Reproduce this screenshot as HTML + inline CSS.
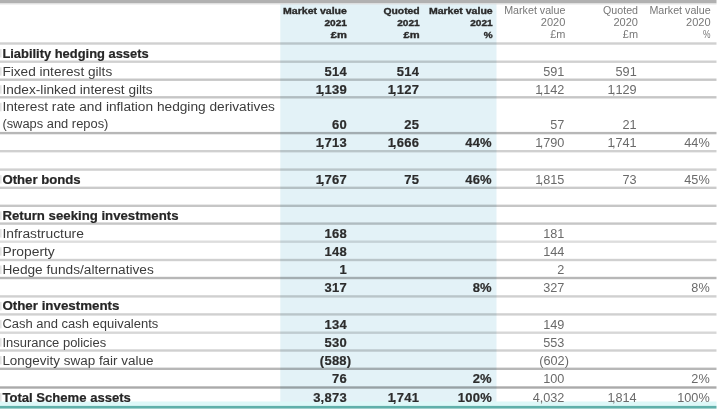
<!DOCTYPE html>
<html><head><meta charset="utf-8"><style>
html,body{margin:0;padding:0;background:#fff;width:720px;height:412px;overflow:hidden}
svg{display:block;filter:blur(0.55px)}
text{font-family:"Liberation Sans",sans-serif}
</style></head><body>
<svg width="720" height="412" viewBox="0 0 720 412">
<rect x="0" y="0" width="720" height="412" fill="#ffffff"/>
<rect x="280.3" y="3" width="216.2" height="402" fill="#e3f2f7"/>
<rect x="0" y="0" width="716.5" height="3.2" fill="#b1b1b1"/>
<rect x="0" y="3.2" width="716.5" height="1.2" fill="#dcdcdc"/>
<rect x="0" y="42.30" width="716.5" height="2.4" fill="#000" fill-opacity="0.183"/>
<rect x="0" y="60.50" width="716.5" height="2.4" fill="#000" fill-opacity="0.183"/>
<rect x="0" y="78.50" width="716.5" height="2.4" fill="#000" fill-opacity="0.225"/>
<rect x="0" y="96.10" width="716.5" height="2.4" fill="#000" fill-opacity="0.225"/>
<rect x="0" y="131.90" width="716.5" height="2.4" fill="#000" fill-opacity="0.283"/>
<rect x="0" y="150.00" width="716.5" height="2.4" fill="#000" fill-opacity="0.183"/>
<rect x="0" y="168.40" width="716.5" height="2.4" fill="#000" fill-opacity="0.183"/>
<rect x="0" y="186.60" width="716.5" height="2.4" fill="#000" fill-opacity="0.204"/>
<rect x="0" y="204.60" width="716.5" height="2.4" fill="#000" fill-opacity="0.225"/>
<rect x="0" y="222.40" width="716.5" height="2.4" fill="#000" fill-opacity="0.225"/>
<rect x="0" y="240.50" width="716.5" height="2.4" fill="#000" fill-opacity="0.133"/>
<rect x="0" y="258.80" width="716.5" height="2.4" fill="#000" fill-opacity="0.183"/>
<rect x="0" y="276.80" width="716.5" height="2.4" fill="#000" fill-opacity="0.283"/>
<rect x="0" y="295.20" width="716.5" height="2.4" fill="#000" fill-opacity="0.183"/>
<rect x="0" y="313.20" width="716.5" height="2.4" fill="#000" fill-opacity="0.183"/>
<rect x="0" y="331.50" width="716.5" height="2.4" fill="#000" fill-opacity="0.158"/>
<rect x="0" y="349.30" width="716.5" height="2.4" fill="#000" fill-opacity="0.183"/>
<rect x="0" y="367.60" width="716.5" height="2.4" fill="#000" fill-opacity="0.283"/>
<rect x="0" y="386.30" width="716.5" height="2.4" fill="#000" fill-opacity="0.333"/>
<rect x="0" y="401.5" width="716.5" height="4.6" fill="#ddf8f8"/>
<rect x="0" y="405.9" width="716.5" height="2.7" fill="#5fb0aa"/>
<text x="346.90" y="14.40" fill="#2a2a2a" font-size="9.5" font-weight="bold" text-anchor="end" textLength="63.8" lengthAdjust="spacingAndGlyphs" stroke="#2a2a2a" stroke-width="0.35">Market value</text>
<text x="346.90" y="26.40" fill="#2a2a2a" font-size="9.7" font-weight="bold" text-anchor="end" textLength="22.5" lengthAdjust="spacingAndGlyphs" stroke="#2a2a2a" stroke-width="0.35">2021</text>
<text x="346.90" y="37.80" fill="#2a2a2a" font-size="9.7" font-weight="bold" text-anchor="end" textLength="16.1" lengthAdjust="spacingAndGlyphs" stroke="#2a2a2a" stroke-width="0.35">£m</text>
<text x="419.70" y="14.40" fill="#2a2a2a" font-size="9.5" font-weight="bold" text-anchor="end" textLength="36.3" lengthAdjust="spacingAndGlyphs" stroke="#2a2a2a" stroke-width="0.35">Quoted</text>
<text x="419.70" y="26.40" fill="#2a2a2a" font-size="9.7" font-weight="bold" text-anchor="end" textLength="22.5" lengthAdjust="spacingAndGlyphs" stroke="#2a2a2a" stroke-width="0.35">2021</text>
<text x="419.70" y="37.80" fill="#2a2a2a" font-size="9.7" font-weight="bold" text-anchor="end" textLength="16.1" lengthAdjust="spacingAndGlyphs" stroke="#2a2a2a" stroke-width="0.35">£m</text>
<text x="492.70" y="14.40" fill="#2a2a2a" font-size="9.5" font-weight="bold" text-anchor="end" textLength="63.8" lengthAdjust="spacingAndGlyphs" stroke="#2a2a2a" stroke-width="0.35">Market value</text>
<text x="492.70" y="26.40" fill="#2a2a2a" font-size="9.7" font-weight="bold" text-anchor="end" textLength="22.5" lengthAdjust="spacingAndGlyphs" stroke="#2a2a2a" stroke-width="0.35">2021</text>
<text x="492.70" y="37.80" fill="#2a2a2a" font-size="9.7" font-weight="bold" text-anchor="end" textLength="8.9" lengthAdjust="spacingAndGlyphs" stroke="#2a2a2a" stroke-width="0.35">%</text>
<text x="565.4" y="14.40" fill="#777777" font-size="10.0" text-anchor="end" textLength="61.2" lengthAdjust="spacingAndGlyphs">Market value</text>
<text x="565.4" y="26.40" fill="#777777" font-size="10.3" text-anchor="end" textLength="24.6" lengthAdjust="spacingAndGlyphs">2020</text>
<text x="565.4" y="37.80" fill="#777777" font-size="10.3" text-anchor="end" textLength="15.2" lengthAdjust="spacingAndGlyphs">£m</text>
<text x="638.0" y="14.40" fill="#777777" font-size="10.0" text-anchor="end" textLength="35.0" lengthAdjust="spacingAndGlyphs">Quoted</text>
<text x="638.0" y="26.40" fill="#777777" font-size="10.3" text-anchor="end" textLength="24.6" lengthAdjust="spacingAndGlyphs">2020</text>
<text x="638.0" y="37.80" fill="#777777" font-size="10.3" text-anchor="end" textLength="15.2" lengthAdjust="spacingAndGlyphs">£m</text>
<text x="710.6" y="14.40" fill="#777777" font-size="10.0" text-anchor="end" textLength="61.2" lengthAdjust="spacingAndGlyphs">Market value</text>
<text x="710.6" y="26.40" fill="#777777" font-size="10.3" text-anchor="end" textLength="24.6" lengthAdjust="spacingAndGlyphs">2020</text>
<text x="710.6" y="37.80" fill="#777777" font-size="10.3" text-anchor="end" textLength="7.5" lengthAdjust="spacingAndGlyphs">%</text>
<rect x="0" y="49.00" width="1.6" height="8.5" fill="#000" fill-opacity="0.11"/>
<text x="2.4" y="57.50" fill="#262626" font-size="12.5" font-weight="bold" textLength="146.3" lengthAdjust="spacingAndGlyphs" stroke="#262626" stroke-width="0.2">Liability hedging assets</text>
<rect x="0" y="67.20" width="1.6" height="8.5" fill="#000" fill-opacity="0.11"/>
<text x="2.4" y="75.70" fill="#3c3c3c" font-size="12.5" textLength="109.8" lengthAdjust="spacingAndGlyphs">Fixed interest gilts</text>
<text x="346.95" y="76.00" fill="#2c2c2c" font-size="13" font-weight="bold" text-anchor="end" letter-spacing="0.25" stroke="#2c2c2c" stroke-width="0.2">514</text>
<text x="419.15" y="76.00" fill="#2c2c2c" font-size="13" font-weight="bold" text-anchor="end" letter-spacing="0.25" stroke="#2c2c2c" stroke-width="0.2">514</text>
<text x="564.40" y="76.00" fill="#6a6a6a" font-size="12.7" text-anchor="end">591</text>
<text x="636.70" y="76.00" fill="#6a6a6a" font-size="12.7" text-anchor="end">591</text>
<rect x="0" y="85.20" width="1.6" height="8.5" fill="#000" fill-opacity="0.11"/>
<text x="2.4" y="93.70" fill="#3c3c3c" font-size="12.5" textLength="150.3" lengthAdjust="spacingAndGlyphs">Index-linked interest gilts</text>
<text x="346.95" y="94.00" fill="#2c2c2c" font-size="13" font-weight="bold" text-anchor="end" letter-spacing="0.25" stroke="#2c2c2c" stroke-width="0.2">1<tspan dx="-2.5">,139</tspan></text>
<text x="419.15" y="94.00" fill="#2c2c2c" font-size="13" font-weight="bold" text-anchor="end" letter-spacing="0.25" stroke="#2c2c2c" stroke-width="0.2">1<tspan dx="-2.5">,127</tspan></text>
<text x="564.40" y="94.00" fill="#6a6a6a" font-size="12.7" text-anchor="end">1<tspan dx="-2.5">,142</tspan></text>
<text x="636.70" y="94.00" fill="#6a6a6a" font-size="12.7" text-anchor="end">1<tspan dx="-2.5">,129</tspan></text>
<rect x="0" y="102.80" width="1.6" height="8.5" fill="#000" fill-opacity="0.11"/>
<text x="2.4" y="111.30" fill="#3c3c3c" font-size="12.5" textLength="272.5" lengthAdjust="spacingAndGlyphs">Interest rate and inflation hedging derivatives</text>
<text x="2.4" y="128.30" fill="#3c3c3c" font-size="12.5" textLength="106" lengthAdjust="spacingAndGlyphs">(swaps and repos)</text>
<text x="346.95" y="128.60" fill="#2c2c2c" font-size="13" font-weight="bold" text-anchor="end" letter-spacing="0.25" stroke="#2c2c2c" stroke-width="0.2">60</text>
<text x="419.15" y="128.60" fill="#2c2c2c" font-size="13" font-weight="bold" text-anchor="end" letter-spacing="0.25" stroke="#2c2c2c" stroke-width="0.2">25</text>
<text x="564.40" y="128.60" fill="#6a6a6a" font-size="12.7" text-anchor="end">57</text>
<text x="636.70" y="128.60" fill="#6a6a6a" font-size="12.7" text-anchor="end">21</text>
<text x="346.95" y="147.40" fill="#2c2c2c" font-size="13" font-weight="bold" text-anchor="end" letter-spacing="0.25" stroke="#2c2c2c" stroke-width="0.2">1<tspan dx="-2.5">,713</tspan></text>
<text x="419.15" y="147.40" fill="#2c2c2c" font-size="13" font-weight="bold" text-anchor="end" letter-spacing="0.25" stroke="#2c2c2c" stroke-width="0.2">1<tspan dx="-2.5">,666</tspan></text>
<text x="491.95" y="147.40" fill="#2c2c2c" font-size="13" font-weight="bold" text-anchor="end" letter-spacing="0.25" stroke="#2c2c2c" stroke-width="0.2">44%</text>
<text x="564.40" y="147.40" fill="#6a6a6a" font-size="12.7" text-anchor="end">1<tspan dx="-2.5">,790</tspan></text>
<text x="636.70" y="147.40" fill="#6a6a6a" font-size="12.7" text-anchor="end">1<tspan dx="-2.5">,741</tspan></text>
<text x="709.70" y="147.40" fill="#6a6a6a" font-size="12.7" text-anchor="end">44%</text>
<rect x="0" y="175.10" width="1.6" height="8.5" fill="#000" fill-opacity="0.11"/>
<text x="2.4" y="183.60" fill="#262626" font-size="12.5" font-weight="bold" textLength="78.3" lengthAdjust="spacingAndGlyphs" stroke="#262626" stroke-width="0.2">Other bonds</text>
<text x="346.95" y="183.90" fill="#2c2c2c" font-size="13" font-weight="bold" text-anchor="end" letter-spacing="0.25" stroke="#2c2c2c" stroke-width="0.2">1<tspan dx="-2.5">,767</tspan></text>
<text x="419.15" y="183.90" fill="#2c2c2c" font-size="13" font-weight="bold" text-anchor="end" letter-spacing="0.25" stroke="#2c2c2c" stroke-width="0.2">75</text>
<text x="491.95" y="183.90" fill="#2c2c2c" font-size="13" font-weight="bold" text-anchor="end" letter-spacing="0.25" stroke="#2c2c2c" stroke-width="0.2">46%</text>
<text x="564.40" y="183.90" fill="#6a6a6a" font-size="12.7" text-anchor="end">1<tspan dx="-2.5">,815</tspan></text>
<text x="636.70" y="183.90" fill="#6a6a6a" font-size="12.7" text-anchor="end">73</text>
<text x="709.70" y="183.90" fill="#6a6a6a" font-size="12.7" text-anchor="end">45%</text>
<rect x="0" y="211.30" width="1.6" height="8.5" fill="#000" fill-opacity="0.11"/>
<text x="2.4" y="219.80" fill="#262626" font-size="12.5" font-weight="bold" textLength="176.1" lengthAdjust="spacingAndGlyphs" stroke="#262626" stroke-width="0.2">Return seeking investments</text>
<rect x="0" y="229.10" width="1.6" height="8.5" fill="#000" fill-opacity="0.11"/>
<text x="2.4" y="237.60" fill="#3c3c3c" font-size="12.5" textLength="81.5" lengthAdjust="spacingAndGlyphs">Infrastructure</text>
<text x="346.95" y="237.90" fill="#2c2c2c" font-size="13" font-weight="bold" text-anchor="end" letter-spacing="0.25" stroke="#2c2c2c" stroke-width="0.2">168</text>
<text x="564.40" y="237.90" fill="#6a6a6a" font-size="12.7" text-anchor="end">181</text>
<rect x="0" y="247.20" width="1.6" height="8.5" fill="#000" fill-opacity="0.11"/>
<text x="2.4" y="255.70" fill="#3c3c3c" font-size="12.5" textLength="52.4" lengthAdjust="spacingAndGlyphs">Property</text>
<text x="346.95" y="256.00" fill="#2c2c2c" font-size="13" font-weight="bold" text-anchor="end" letter-spacing="0.25" stroke="#2c2c2c" stroke-width="0.2">148</text>
<text x="564.40" y="256.00" fill="#6a6a6a" font-size="12.7" text-anchor="end">144</text>
<rect x="0" y="265.50" width="1.6" height="8.5" fill="#000" fill-opacity="0.11"/>
<text x="2.4" y="274.00" fill="#3c3c3c" font-size="12.5" textLength="151.4" lengthAdjust="spacingAndGlyphs">Hedge funds/alternatives</text>
<text x="346.95" y="274.30" fill="#2c2c2c" font-size="13" font-weight="bold" text-anchor="end" letter-spacing="0.25" stroke="#2c2c2c" stroke-width="0.2">1</text>
<text x="564.40" y="274.30" fill="#6a6a6a" font-size="12.7" text-anchor="end">2</text>
<text x="346.95" y="292.30" fill="#2c2c2c" font-size="13" font-weight="bold" text-anchor="end" letter-spacing="0.25" stroke="#2c2c2c" stroke-width="0.2">317</text>
<text x="491.95" y="292.30" fill="#2c2c2c" font-size="13" font-weight="bold" text-anchor="end" letter-spacing="0.25" stroke="#2c2c2c" stroke-width="0.2">8%</text>
<text x="564.40" y="292.30" fill="#6a6a6a" font-size="12.7" text-anchor="end">327</text>
<text x="709.70" y="292.30" fill="#6a6a6a" font-size="12.7" text-anchor="end">8%</text>
<rect x="0" y="301.90" width="1.6" height="8.5" fill="#000" fill-opacity="0.11"/>
<text x="2.4" y="310.40" fill="#262626" font-size="12.5" font-weight="bold" textLength="117.1" lengthAdjust="spacingAndGlyphs" stroke="#262626" stroke-width="0.2">Other investments</text>
<rect x="0" y="319.90" width="1.6" height="8.5" fill="#000" fill-opacity="0.11"/>
<text x="2.4" y="328.40" fill="#3c3c3c" font-size="12.5" textLength="155.9" lengthAdjust="spacingAndGlyphs">Cash and cash equivalents</text>
<text x="346.95" y="328.70" fill="#2c2c2c" font-size="13" font-weight="bold" text-anchor="end" letter-spacing="0.25" stroke="#2c2c2c" stroke-width="0.2">134</text>
<text x="564.40" y="328.70" fill="#6a6a6a" font-size="12.7" text-anchor="end">149</text>
<rect x="0" y="338.20" width="1.6" height="8.5" fill="#000" fill-opacity="0.11"/>
<text x="2.4" y="346.70" fill="#3c3c3c" font-size="12.5" textLength="103.8" lengthAdjust="spacingAndGlyphs">Insurance policies</text>
<text x="346.95" y="347.00" fill="#2c2c2c" font-size="13" font-weight="bold" text-anchor="end" letter-spacing="0.25" stroke="#2c2c2c" stroke-width="0.2">530</text>
<text x="564.40" y="347.00" fill="#6a6a6a" font-size="12.7" text-anchor="end">553</text>
<rect x="0" y="356.00" width="1.6" height="8.5" fill="#000" fill-opacity="0.11"/>
<text x="2.4" y="364.50" fill="#3c3c3c" font-size="12.5" textLength="151.1" lengthAdjust="spacingAndGlyphs">Longevity swap fair value</text>
<text x="351.45" y="364.80" fill="#2c2c2c" font-size="13" font-weight="bold" text-anchor="end" letter-spacing="0.25" stroke="#2c2c2c" stroke-width="0.2">(588)</text>
<text x="568.90" y="364.80" fill="#6a6a6a" font-size="12.7" text-anchor="end">(602)</text>
<text x="346.95" y="383.10" fill="#2c2c2c" font-size="13" font-weight="bold" text-anchor="end" letter-spacing="0.25" stroke="#2c2c2c" stroke-width="0.2">76</text>
<text x="491.95" y="383.10" fill="#2c2c2c" font-size="13" font-weight="bold" text-anchor="end" letter-spacing="0.25" stroke="#2c2c2c" stroke-width="0.2">2%</text>
<text x="564.40" y="383.10" fill="#6a6a6a" font-size="12.7" text-anchor="end">100</text>
<text x="709.70" y="383.10" fill="#6a6a6a" font-size="12.7" text-anchor="end">2%</text>
<rect x="0" y="393.00" width="1.6" height="8.5" fill="#000" fill-opacity="0.11"/>
<text x="2.4" y="401.50" fill="#262626" font-size="12.5" font-weight="bold" textLength="128.5" lengthAdjust="spacingAndGlyphs" stroke="#262626" stroke-width="0.2">Total Scheme assets</text>
<text x="346.95" y="401.80" fill="#2c2c2c" font-size="13" font-weight="bold" text-anchor="end" letter-spacing="0.25" stroke="#2c2c2c" stroke-width="0.2">3,873</text>
<text x="419.15" y="401.80" fill="#2c2c2c" font-size="13" font-weight="bold" text-anchor="end" letter-spacing="0.25" stroke="#2c2c2c" stroke-width="0.2">1<tspan dx="-2.5">,741</tspan></text>
<text x="491.95" y="401.80" fill="#2c2c2c" font-size="13" font-weight="bold" text-anchor="end" letter-spacing="0.25" stroke="#2c2c2c" stroke-width="0.2">100%</text>
<text x="564.40" y="401.80" fill="#6a6a6a" font-size="12.7" text-anchor="end">4,032</text>
<text x="636.70" y="401.80" fill="#6a6a6a" font-size="12.7" text-anchor="end">1<tspan dx="-2.5">,814</tspan></text>
<text x="709.70" y="401.80" fill="#6a6a6a" font-size="12.7" text-anchor="end">100%</text>
</svg>
</body></html>
